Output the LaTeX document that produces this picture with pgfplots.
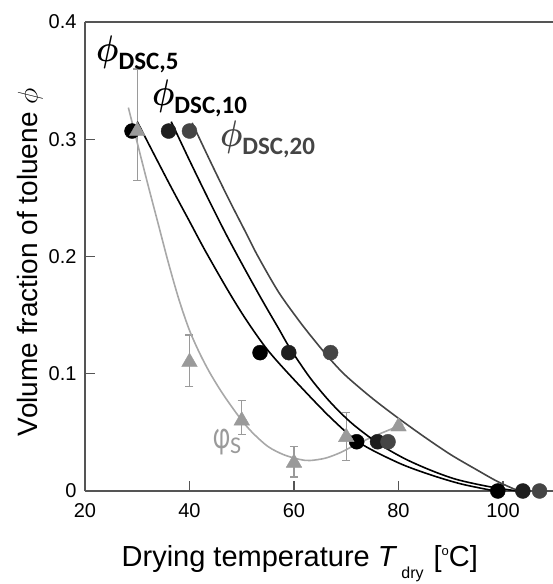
\RequirePackage{fix-cm}
\documentclass[border=0pt]{standalone}
\usepackage{fontspec}
\setmainfont{Liberation Sans}
\newfontfamily\carlito{Carlito}
\usepackage{pgfplots}
\pgfplotsset{compat=1.18}
\definecolor{axgray}{HTML}{555555}
\definecolor{dscten}{HTML}{1E1E1E}
\definecolor{dsctwenty}{HTML}{454545}
\definecolor{phisgray}{HTML}{9A9A9A}
\definecolor{phiscurve}{HTML}{A8A8A8}
\newcommand\dsc[1]{\scalebox{0.85}[1]{\fontsize{37}{37}\selectfont\boldmath$\phi$}\raisebox{-8pt}{\carlito\bfseries\fontsize{25}{25}\selectfont #1}}
\begin{document}
\begin{tikzpicture}
\useasboundingbox (-85pt,-93pt) rectangle (468pt,491pt);
\begin{axis}[
  at={(0,0)}, anchor=south west,
  scale only axis, width=468pt, height=469pt,
  xmin=20, xmax=109.57, ymin=0, ymax=0.4,
  clip=false,
  axis x line*=bottom, axis y line*=left,
  axis line style={-, draw=axgray, line width=1.2pt},
  xtick={20,40,60,80,100},
  ytick={0,0.1,0.2,0.3,0.4},
  yticklabels={0,0.1,0.2,0.3,0.4},
  tick align=inside, major tick length=10pt,
  tick style={draw=axgray, line width=1.1pt},
  /pgf/number format/assume math mode=true,
  ticklabel style={font=\fontsize{20}{20}\selectfont},
  yticklabel style={xshift=-5pt},
  xticklabel style={yshift=-9pt},
  xlabel={Drying temperature \textit{T}\kern4pt\raisebox{-12pt}{\fontsize{16}{16}\selectfont dry}\kern2pt\ [\raisebox{11pt}{\fontsize{13}{13}\selectfont o}C]},
  xlabel style={at={(axis description cs:0.459,0)}, anchor=base, yshift=-75pt, font=\fontsize{29}{29}\selectfont},
  ylabel={Volume fraction of toluene $\phi$},
  ylabel style={at={(axis description cs:-0.1175,0.488)}, anchor=center, font=\fontsize{28}{28}\selectfont},
]
\draw[axgray, line width=1.2pt] (rel axis cs:0,1) -- (rel axis cs:1,1);
% circles
\addplot[only marks, mark=*, mark size=7.5pt, mark options={draw=black, fill=black}]
  coordinates {(29,0.307) (53.5,0.118) (72,0.042) (99,0)};
\addplot[only marks, mark=*, mark size=7.5pt, mark options={draw=dscten, fill=dscten}]
  coordinates {(36,0.307) (59,0.118) (76,0.042) (103.8,0)};
\addplot[only marks, mark=*, mark size=7.5pt, mark options={draw=dsctwenty, fill=dsctwenty}]
  coordinates {(40,0.307) (67,0.118) (78,0.042) (107,0)};
% triangles with error bars
\addplot[only marks, mark=triangle*, mark size=9pt, mark options={draw=phisgray, fill=phisgray},
  error bars/.cd, y dir=both, y explicit,
  error bar style={draw=phisgray, line width=1.2pt},
  error mark options={rotate=90, mark size=4pt, draw=phisgray, line width=1.2pt}]
  coordinates {
  (30,0.307) += (0,0.053) -= (0,0.042)
  (40,0.110) += (0,0.023) -= (0,0.021)
  (50,0.060) += (0,0.017) -= (0,0.012)
  (60,0.024) += (0,0.014) -= (0,0.012)
  (70,0.046) += (0,0.021) -= (0,0.020)
  (80,0.055) += (0,0) -= (0,0)
  };
% curves
\addplot[phiscurve, line width=1.6pt, smooth, tension=0.5] coordinates {
(28.3,0.327) (30,0.297) (32,0.262) (34,0.228) (36,0.194) (38,0.163) (40,0.137)
(42,0.117) (44,0.100) (46.5,0.082) (49.7,0.062) (52,0.050) (55,0.038) (58,0.031)
(61,0.027) (63,0.026) (66,0.028) (69,0.033) (72,0.040) (76,0.048) (80.9,0.057)};
\addplot[black, line width=1.6pt, smooth, tension=0.5] coordinates {
(30,0.315) (33,0.289) (36.5,0.259) (40,0.230) (43,0.205) (47.5,0.170) (51,0.145)
(55,0.120) (60,0.095) (66.9,0.063) (72.6,0.041) (80,0.024) (86,0.014) (92,0.006) (98.5,0.0)};
\addplot[black, line width=1.6pt, smooth, tension=0.5] coordinates {
(36.5,0.315) (40,0.282) (43.5,0.250) (47,0.219) (50.5,0.190) (54,0.162) (57,0.139)
(59.2,0.122) (63,0.097) (66.9,0.076) (71,0.058) (76,0.041) (81,0.028) (86,0.018)
(91,0.010) (97,0.004) (102.7,0)};
\addplot[dsctwenty, line width=1.6pt, smooth, tension=0.5] coordinates {
(40.5,0.314) (44,0.281) (47.5,0.249) (50.6,0.222) (53,0.201) (57,0.170) (61,0.145)
(64,0.128) (67,0.112) (70,0.098) (75,0.079) (80,0.062) (85,0.046) (90,0.031)
(95,0.018) (99,0.008) (103,0)};
% labels
\node[anchor=base west, inner sep=0pt, text=black] at (axis cs:22.1,0.366) {\dsc{DSC,5}};
\node[anchor=base west, inner sep=0pt, text=black] at (axis cs:32.8,0.329) {\dsc{DSC,10}};
\node[anchor=base west, inner sep=0pt, text=dsctwenty] at (axis cs:45.8,0.2936) {\dsc{DSC,20}};
\node[anchor=base west, inner sep=0pt, text=phisgray] at (axis cs:44.5,0.036)
  {\scalebox{0.65}[1]{\carlito\fontsize{40}{40}\selectfont φ}\raisebox{-5pt}{\carlito\fontsize{24}{24}\selectfont S}};
\end{axis}
\end{tikzpicture}
\end{document}
